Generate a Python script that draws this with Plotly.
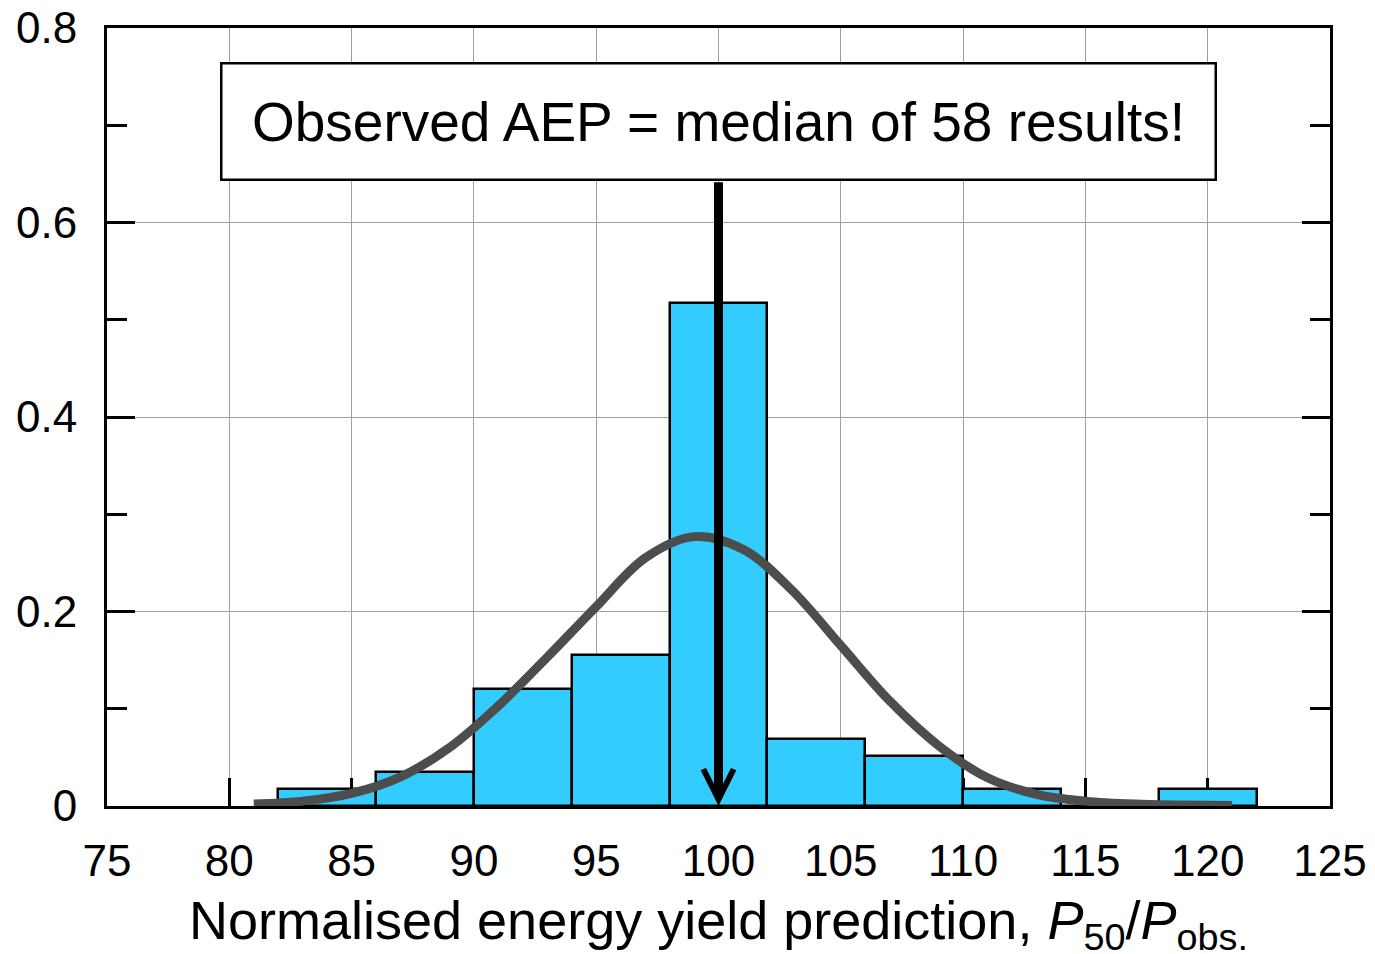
import plotly.graph_objects as go

# ---- data ----
bin_centers = [84, 88, 92, 96, 100, 104, 108, 112, 116, 120]
bin_width = 4
counts = [1, 2, 7, 9, 30, 4, 3, 1, 0, 1]
n_results = 58
freq = [c / n_results for c in counts]

curve_x = [81, 83, 85, 87, 89, 91, 93, 95, 97, 99, 101, 103, 105, 107, 109, 111, 113, 115, 117, 119, 121]
curve_y = [0.002, 0.005, 0.013, 0.030, 0.060, 0.103, 0.153, 0.205, 0.255, 0.277, 0.264, 0.222,
           0.165, 0.108, 0.062, 0.029, 0.012, 0.005, 0.002, 0.001, 0.0005]

median_value = 100
box_bottom = 0.643
box_center_y = 0.704

x_ticks = [75, 80, 85, 90, 95, 100, 105, 110, 115, 120, 125]
y_ticks = [0, 0.2, 0.4, 0.6, 0.8]
y_tick_labels = ["0", "0.2", "0.4", "0.6", "0.8"]

x_title = "Normalised energy yield prediction, <i>P</i><sub>50</sub>/<i>P</i><sub>obs.</sub>"

FONT = "Liberation Sans, Arial, sans-serif"

fig = go.Figure()

fig.add_trace(go.Bar(
    x=bin_centers, y=freq, width=bin_width,
    marker=dict(color="#33CCFF", line=dict(color="black", width=2.5)),
    hoverinfo="skip",
))

fig.add_trace(go.Scatter(
    x=curve_x, y=curve_y, mode="lines",
    line=dict(color="#4d4d4d", width=9, shape="spline", smoothing=1.0),
    hoverinfo="skip",
))

# arrow from box to the median
fig.add_annotation(
    x=median_value, y=0, ax=median_value, ay=box_bottom,
    xref="x", yref="y", axref="x", ayref="y",
    text="", showarrow=True, arrowhead=5, arrowsize=0.66, arrowwidth=9,
    arrowcolor="black", standoff=0,
)

# text box
fig.add_annotation(
    x=median_value, y=box_center_y, xref="x", yref="y",
    text="Observed AEP = median of 58 results!",
    showarrow=False,
    font=dict(family=FONT, size=55, color="black"),
    bgcolor="white", bordercolor="black", borderwidth=2.5, borderpad=0,
    width=992, height=114, align="center", valign="middle",
)

# x-axis title
fig.add_annotation(
    x=0.5, y=-0.106, xref="paper", yref="paper",
    xanchor="center", yanchor="top",
    text=x_title, showarrow=False,
    font=dict(family=FONT, size=54, color="black"),
)

fig.update_layout(
    width=1367, height=946,
    margin=dict(l=99, r=45, t=20, b=148, autoexpand=False),
    plot_bgcolor="white", paper_bgcolor="white",
    showlegend=False, hovermode=False,
    bargap=0,
    font=dict(family=FONT, color="black"),
)

fig.update_xaxes(
    range=[75, 125], tickvals=x_ticks, ticktext=[str(v) for v in x_ticks],
    ticks="inside", ticklen=28, tickwidth=2.5, tickcolor="black",
    showline=True, linecolor="black", linewidth=3, mirror=True,
    showgrid=True, gridcolor="#a0a0a0", gridwidth=1.3,
    zeroline=False, layer="below traces", automargin=False,
    tickfont=dict(family=FONT, size=44, color="black"),
    ticklabelstandoff=14, ticklabeloverflow="allow",
)

fig.update_yaxes(
    range=[0, 0.8], tickvals=y_ticks, ticktext=y_tick_labels,
    ticks="inside", ticklen=28, tickwidth=2.5, tickcolor="black",
    minor=dict(dtick=0.1, ticks="inside", ticklen=20, tickwidth=2.5, tickcolor="black", showgrid=False),
    showline=True, linecolor="black", linewidth=3, mirror="ticks",
    showgrid=True, gridcolor="#a0a0a0", gridwidth=1.3,
    zeroline=False, automargin=False,
    tickfont=dict(family=FONT, size=44, color="black"),
    ticklabelstandoff=18, ticklabeloverflow="allow",
)

fig.write_html("out.html")
